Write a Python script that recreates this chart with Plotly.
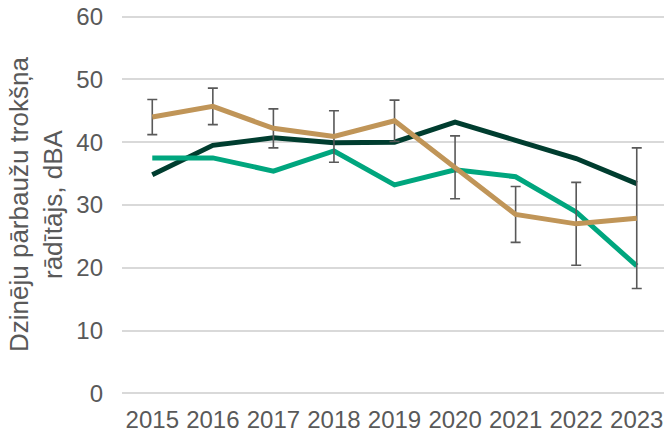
import plotly.graph_objects as go

years = ["2015", "2016", "2017", "2018", "2019", "2020", "2021", "2022", "2023"]

# Three series of engine test noise indicator (dBA)
dark_series = [34.8, 39.5, 40.7, 39.9, 40.0, 43.2, 40.3, 37.4, 33.4]
teal_series = [37.5, 37.5, 35.4, 38.6, 33.2, 35.6, 34.5, 28.9, 20.3]
tan_series = [44.0, 45.7, 42.2, 40.9, 43.4, 36.0, 28.5, 27.0, 27.9]
tan_error = [2.8, 2.9, 3.1, 4.1, 3.3, 5.0, 4.45, 6.6, 11.2]

y_ticks = [0, 10, 20, 30, 40, 50, 60]

GREY = "#595959"
FONT = "Liberation Sans, Arial, sans-serif"

fig = go.Figure()
fig.add_trace(go.Scatter(
    x=years, y=dark_series, mode="lines",
    line=dict(color="#003D2F", width=5), name="A",
))
fig.add_trace(go.Scatter(
    x=years, y=teal_series, mode="lines",
    line=dict(color="#00A67E", width=5), name="B",
))
fig.add_trace(go.Scatter(
    x=years, y=tan_series, mode="lines",
    line=dict(color="#C09558", width=5), name="C",
    error_y=dict(type="data", array=tan_error, visible=True,
                 color=GREY, thickness=1.6, width=5),
))

fig.update_layout(
    width=664, height=432,
    margin=dict(l=122, r=0, t=13.5, b=35.5, autoexpand=False),
    paper_bgcolor="white", plot_bgcolor="white",
    showlegend=False,
    font=dict(family=FONT, color=GREY, size=24),
    xaxis=dict(
        type="category", range=[-0.5, 8.45],
        showgrid=False, zeroline=False, showline=False,
        ticks="", ticklabelstandoff=7,
        tickfont=dict(size=24, color=GREY, family=FONT),
    ),
    yaxis=dict(
        range=[-0.4, 60.4], tickvals=y_ticks,
        showgrid=True, gridcolor="#D9D9D9", gridwidth=1.5,
        zeroline=False, showline=False, ticks="",
        ticklabelstandoff=18,
        tickfont=dict(size=24, color=GREY, family=FONT),
    ),
    annotations=[dict(
        text="Dzinēju pārbaužu trokšņa<br>rādītājs, dBA",
        textangle=-90, xref="paper", yref="paper",
        x=(36 - 122) / 542, y=0.5, xanchor="center", yanchor="middle",
        showarrow=False, font=dict(size=26, color=GREY, family=FONT),
    )],
)

fig.write_html("out.html")
